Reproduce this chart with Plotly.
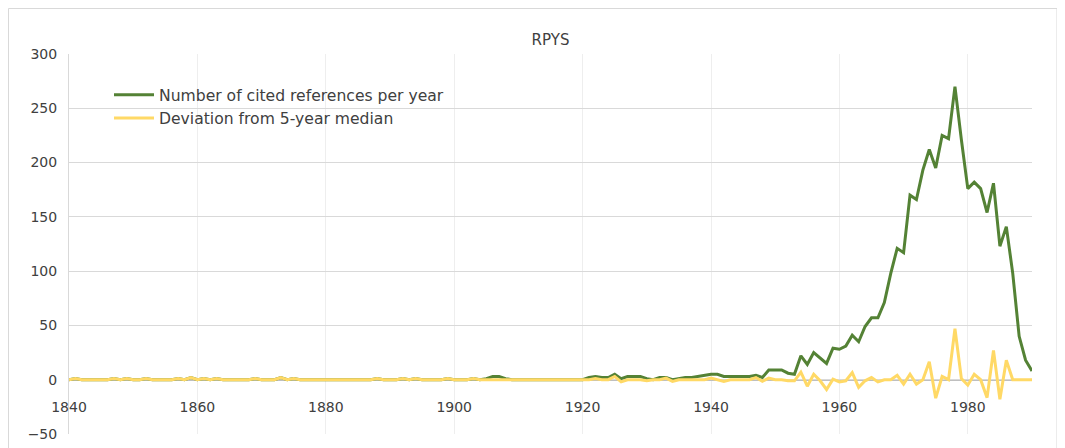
import plotly.graph_objects as go

years = list(range(1840, 1991))

cited = [
    # 1840-1849
    0, 1, 0, 0, 0, 0, 0, 1, 0, 1,
    # 1850-1859
    0, 0, 1, 0, 0, 0, 0, 1, 0, 2,
    # 1860-1869
    0, 1, 0, 1, 0, 0, 0, 0, 0, 1,
    # 1870-1879
    0, 0, 0, 2, 0, 1, 0, 0, 0, 0,
    # 1880-1889
    0, 0, 0, 0, 0, 0, 0, 0, 1, 0,
    # 1890-1899
    0, 0, 1, 0, 1, 0, 0, 0, 0, 1,
    # 1900-1909
    0, 0, 0, 1, 0, 1, 3, 3, 1, 0,
    # 1910-1919
    0, 0, 0, 0, 0, 0, 0, 0, 0, 0,
    # 1920-1929
    0, 2, 3, 2, 2, 5, 1, 3, 3, 3,
    # 1930-1939
    1, 0, 2, 2, 0, 1, 2, 2, 3, 4,
    # 1940-1949
    5, 5, 3, 3, 3, 3, 3, 4, 2, 9,
    # 1950-1959
    9, 9, 6, 5, 22, 14, 25, 20, 15, 29,
    # 1960-1969
    28, 31, 41, 35, 49, 57, 57, 71, 98, 121,
    # 1970-1979
    117, 170, 166, 193, 212, 195, 225, 222, 270, 221,
    # 1980-1990
    176, 182, 176, 154, 181, 123, 141, 98, 40, 18, 8,
]

deviation = [
    # 1840-1849
    0, 1, 0, 0, 0, 0, 0, 1, 0, 1,
    # 1850-1859
    0, 0, 1, 0, 0, 0, 0, 1, 0, 2,
    # 1860-1869
    0, 1, 0, 1, 0, 0, 0, 0, 0, 1,
    # 1870-1879
    0, 0, 0, 2, 0, 1, 0, 0, 0, 0,
    # 1880-1889
    0, 0, 0, 0, 0, 0, 0, 0, 1, 0,
    # 1890-1899
    0, 0, 1, 0, 1, 0, 0, 0, 0, 1,
    # 1900-1909
    0, 0, 0, 1, 0, 0, 0, 0, 0, 0,
    # 1910-1919
    0, 0, 0, 0, 0, 0, 0, 0, 0, 0,
    # 1920-1929
    0, 0, 1, 0, 0, 3, -2, 0, 0, 0,
    # 1930-1939
    -1, 0, 0, 1.5, -1.5, 0, 0, 0, 0, 0,
    # 1940-1949
    1.5, 0, -1.5, 0, 0, 0, 0, 2, -1.5, 1.5,
    # 1950-1959
    0, 0, -1, -1, 7, -6, 5, -1, -9, 0.5,
    # 1960-1969
    -2, -1, 6.5, -7, -1, 2, -2, 0, 0, 4,
    # 1970-1979
    -4, 5, -4, 0, 16.5, -17, 3, 0, 47, 1,
    # 1980-1990
    -5, 5, 0, -16.5, 27, -18, 18, 0, 0, 0, 0,
]

y_ticks = [-50, 0, 50, 100, 150, 200, 250, 300]
x_ticks = [1840, 1860, 1880, 1900, 1920, 1940, 1960, 1980]

GREEN = "#548235"
YELLOW = "#FFD966"
TEXT = "#404040"
FONT = "DejaVu Sans"

fig = go.Figure()
fig.add_trace(go.Scatter(
    x=years, y=cited, mode="lines", name="Number of cited references per year",
    line=dict(color=GREEN, width=3),
))
fig.add_trace(go.Scatter(
    x=years, y=deviation, mode="lines", name="Deviation from 5-year median",
    line=dict(color=YELLOW, width=3),
))

# The page body has an 8px margin, so the figure starts at page (8, 8).
OFF = 8
W, H = 1065 - OFF, 448 - OFF
# plot area in page pixels: left 69, right 1032, top 54, bottom 434
L, T = 69 - OFF, 54 - OFF
R = W - (1032 - OFF)
B = H - (434 - OFF)
pw, ph = W - L - R, H - T - B

def px_x(p):
    return (p - OFF - L) / pw

def px_y(p):
    return (H - B - (p - OFF)) / ph

fig.update_layout(
    width=W, height=H,
    margin=dict(l=L, r=R, t=T, b=B, autoexpand=False),
    paper_bgcolor="white", plot_bgcolor="white",
    font=dict(family=FONT, size=14, color=TEXT),
    title=dict(text="RPYS", x=(L + pw / 2) / W, xanchor="center",
               y=1 - (40 - OFF) / H, yanchor="middle",
               font=dict(family=FONT, size=15, color=TEXT)),
    showlegend=True,
    legend=dict(
        x=px_x(109), y=px_y(78), xanchor="left", yanchor="top",
        bgcolor="rgba(0,0,0,0)", borderwidth=0,
        font=dict(family=FONT, size=15.6, color=TEXT),
        itemwidth=40, tracegroupgap=0,
    ),
    xaxis=dict(
        range=[1840, 1990], tickvals=x_ticks, ticktext=[str(v) for v in x_ticks],
        showgrid=True, gridcolor="#eeeeee", gridwidth=1,
        zeroline=False, showline=True, linecolor="#bfbfbf", linewidth=1,
        anchor="free", position=50 / 350, ticks="", automargin=False,
        ticklabelstandoff=14, layer="below traces",
        tickfont=dict(family=FONT, size=14, color=TEXT),
    ),
    yaxis=dict(
        range=[-50, 300], tickvals=y_ticks,
        showgrid=True, gridcolor="#d9d9d9", gridwidth=1,
        zeroline=False, showline=True, linecolor="#d9d9d9", linewidth=1,
        ticks="", ticklabelstandoff=8, automargin=False, layer="below traces",
        tickfont=dict(family=FONT, size=14, color=TEXT),
    ),
    shapes=[dict(
        type="rect", xref="paper", yref="paper",
        x0=px_x(8.5), x1=px_x(1057), y0=px_y(470), y1=px_y(8.5),
        line=dict(color="#d9d9d9", width=1), fillcolor="rgba(0,0,0,0)",
        layer="below",
    )],
)

fig.write_html("out.html")
